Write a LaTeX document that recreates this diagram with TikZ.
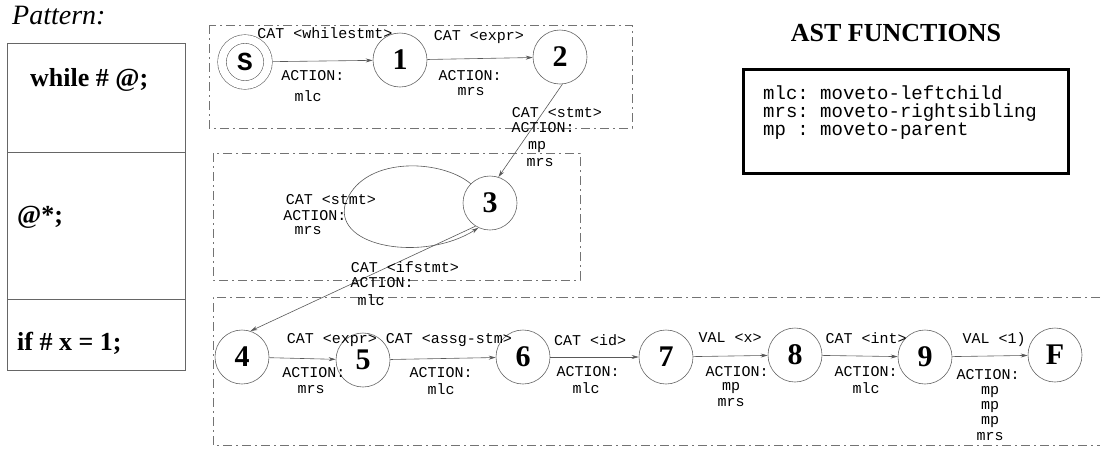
\documentclass[tikz,border=0pt]{standalone}
\usepackage{fontspec}
\setmainfont{Liberation Serif}
\setmonofont{Liberation Mono}
\usetikzlibrary{arrows.meta}
\begin{document}
\begin{tikzpicture}[x=1pt,y=-1pt,
  state/.style={circle,draw=black!60,line width=0.6pt,minimum size=54pt,inner sep=0pt,
    font=\fontsize{30}{30}\selectfont\bfseries},
  lbl/.style={font=\fontsize{15}{15}\selectfont\ttfamily,inner sep=0pt},
  big/.style={font=\fontsize{26}{26}\selectfont\bfseries,inner sep=0pt,anchor=west},
  arr/.style={draw=black!65,line width=0.6pt,-{Stealth[length=7pt,width=4pt]}},
  grp/.style={draw=black!55,line width=0.6pt,dash pattern=on 9pt off 4pt on 2pt off 4pt}]
\useasboundingbox (0,0) rectangle (1105,448);

% pattern table
\node[font=\fontsize{28}{28}\selectfont\itshape,anchor=west,inner sep=0pt] (pat) at (12,16) {Pattern:};
\draw[draw=black!60,line width=0.6pt] (7,43) rectangle (185,370);
\draw[draw=black!60,line width=0.6pt] (7,152) -- (185,152) (7,299) -- (185,299);
\node[big] (p1) at (30,80) {while \# @;};
\node[big] (p2) at (17,217) {@*;};
\node[big] (p3) at (17,343) {if \# x = 1;};

% group boxes
\draw[grp] (209,25) rectangle (632,128);
\draw[grp] (213,153) rectangle (580,280);
\draw[grp] (1100,297) -- (213,297) -- (213,445) -- (1100,445);

% AST functions
\node[font=\fontsize{26}{26}\selectfont\bfseries,inner sep=0pt] (astt) at (896,33) {AST FUNCTIONS};
\node[draw,line width=3pt,minimum width=325pt,minimum height=104pt,anchor=north west,inner sep=0pt] (astb) at (742,68) {};
\node[font=\fontsize{19}{18}\selectfont\ttfamily,anchor=north west,align=left,inner sep=0pt] (astx) at (763,86)
  {mlc: moveto-leftchild\\mrs: moveto-rightsibling\\mp~: moveto-parent};

% states
\node[state,font=\fontsize{26}{26}\selectfont\ttfamily\bfseries,minimum size=46pt,double,double distance=8pt,outer sep=5pt] (S) at (245,62) {S};
\node[state] (n1) at (400,60) {1};
\node[state] (n2) at (560,57) {2};
\node[state] (n3) at (490,203) {3};
\node[state] (n4) at (242,357) {4};
\node[state] (n5) at (363,360) {5};
\node[state] (n6) at (523,357) {6};
\node[state] (n7) at (666,357) {7};
\node[state] (n8) at (795,355) {8};
\node[state] (n9) at (925,357) {9};
\node[state] (nF) at (1055,355) {F};

% edges
\draw[arr] (S) -- (n1);
\draw[arr] (n1) -- (n2);
\draw[arr] (n2.-85) -- (n3.72);
\draw[arr] (n3.135) .. controls (440,158) and (360,156) .. (345,205)
  .. controls (335,248) and (425,262) .. (n3.-115);
\draw[arr] (n3.-122) -- (n4.72);
\draw[arr] (n4) -- (n5);
\draw[arr] (n5) -- (n6);
\draw[arr] (n6) -- (n7);
\draw[arr] (n7) -- (n8);
\draw[arr] (n8) -- (n9);
\draw[arr] (n9) -- (nF);

% labels top
\node[lbl] (l1a) at (325,33) {CAT <whilestmt>};
\node[lbl] (l1b) at (313,76) {ACTION:};
\node[lbl] (l1c) at (308,96) {mlc};
\node[lbl] (l2a) at (479,37) {CAT <expr>};
\node[lbl] (l2b) at (470,76) {ACTION:};
\node[lbl] (l2c) at (471,92) {mrs};
\node[lbl] (l3a) at (557,113) {CAT <stmt>};
\node[lbl] (l3b) at (543,128) {ACTION:};
\node[lbl] (l3c) at (537,147) {mp};
\node[lbl] (l3d) at (540,163) {mrs};
% labels middle
\node[lbl] (l4a) at (331,200) {CAT <stmt>};
\node[lbl] (l4b) at (315,216) {ACTION:};
\node[lbl] (l4c) at (308,231) {mrs};
\node[lbl] (l5a) at (405,267) {CAT <ifstmt>};
\node[lbl] (l5b) at (382,283) {ACTION:};
\node[lbl] (l5c) at (371,300) {mlc};
% labels bottom
\node[lbl] (l6a) at (332,340) {CAT <expr>};
\node[lbl] (l6b) at (314,373) {ACTION:};
\node[lbl] (l6c) at (311,390) {mrs};
\node[lbl] (l7a) at (449,340) {CAT <assg-stm>};
\node[lbl] (l7b) at (441,373) {ACTION:};
\node[lbl] (l7c) at (441,389) {mlc};
\node[lbl] (l8a) at (590,340) {CAT <id>};
\node[lbl] (l8b) at (588,372) {ACTION:};
\node[lbl] (l8c) at (586,388) {mlc};
\node[lbl] (l9a) at (730,338) {VAL <x>};
\node[lbl] (l9b) at (737,372) {ACTION:};
\node[lbl] (l9c) at (731,388) {mp};
\node[lbl] (l9d) at (731,403) {mrs};
\node[lbl] (l10a) at (866,338) {CAT <int>};
\node[lbl] (l10b) at (866,372) {ACTION:};
\node[lbl] (l10c) at (866,388) {mlc};
\node[lbl] (l11a) at (994,340) {VAL <1)};
\node[lbl] (l11b) at (988,375) {ACTION:};
\node[lbl] (l11c) at (990,392) {mp};
\node[lbl] (l11d) at (990,407) {mp};
\node[lbl] (l11e) at (990,422) {mp};
\node[lbl] (l11f) at (990,437) {mrs};
\end{tikzpicture}
\end{document}
